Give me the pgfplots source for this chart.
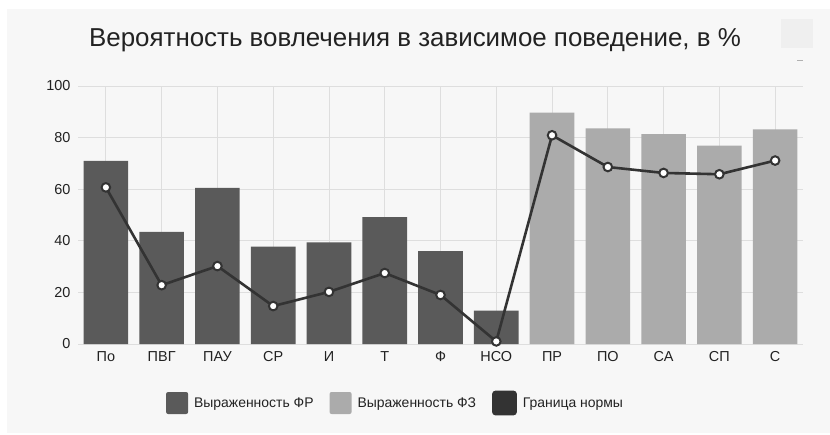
\documentclass[border=0pt]{standalone}
\usepackage{fontspec}
\setmainfont{Liberation Sans}
\usepackage{pgfplots}
\pgfplotsset{compat=1.18}
\definecolor{bgg}{HTML}{F7F7F7}
\definecolor{boxg}{HTML}{EFEFEF}
\definecolor{darkbar}{HTML}{5A5A5A}
\definecolor{lightbar}{HTML}{ABABAB}
\definecolor{lineC}{HTML}{333333}
\definecolor{gridC}{HTML}{DEDEDE}
\definecolor{txt}{HTML}{222222}
\begin{document}
\begin{tikzpicture}
\fill[white] (0bp,0bp) rectangle (830bp,435bp);
\fill[bgg] (7bp,2bp) rectangle (830bp,426bp);
\fill[boxg] (781bp,387bp) rectangle (813bp,416bp);
\draw[gridC!80!black, line width=1bp] (797bp,374bp) -- (803bp,374bp);
\begin{axis}[
  at={(78bp,91bp)}, anchor=south west,
  width=725bp, height=258bp, scale only axis,
  xmin=-0.5, xmax=12.5, ymin=0, ymax=100,
  axis line style={draw=none},
  major tick length=0pt,
  grid=major, grid style={gridC, line width=0.8bp},
  xtick={0,...,12},
  xticklabels={По,ПВГ,ПАУ,СР,И,Т,Ф,НСО,ПР,ПО,СА,СП,С},
  ytick={0,20,...,100},
  /pgf/number format/assume math mode=true,
  tick label style={font=\fontsize{14.5}{16}\selectfont, text=txt},
  yticklabel style={xshift=-4bp},
  xticklabel style={yshift=-4bp},
  clip=false,
  legend columns=3,
  legend style={at={(0.438,-0.2287)}, anchor=center, draw=none, fill=none,
    font=\fontsize{14}{16}\selectfont, text=txt,
    /tikz/every odd column/.append style={column sep=4bp},
    /tikz/every even column/.append style={column sep=14bp}},
]
\addplot[ybar, bar width=0.8, bar shift=0pt, fill=darkbar, draw=none,
  legend image code/.code={\fill[darkbar, rounded corners=2bp] (0bp,-11bp) rectangle (22bp,11bp);}]
  coordinates {(0,71.0) (1,43.5) (2,60.5) (3,37.7) (4,39.4) (5,49.2) (6,36.0) (7,12.9)};
\addlegendentry{Выраженность ФР}
\addplot[ybar, bar width=0.8, bar shift=0pt, fill=lightbar, draw=none,
  legend image code/.code={\fill[lightbar, rounded corners=2bp] (0bp,-11bp) rectangle (22bp,11bp);}]
  coordinates {(8,89.7) (9,83.6) (10,81.3) (11,76.9) (12,83.2)};
\addlegendentry{Выраженность ФЗ}
\addplot[lineC, line width=2.6bp, mark=*, mark size=4.3bp,
  mark options={fill=white, draw=lineC, line width=2bp},
  legend image code/.code={\fill[lineC, rounded corners=2bp] (0bp,-11bp) rectangle (22bp,11bp);}]
  coordinates {(0,60.7) (1,22.8) (2,30.2) (3,14.7) (4,20.2) (5,27.5) (6,19.0) (7,1.0) (8,80.9) (9,68.6) (10,66.3) (11,65.8) (12,71.1)};
\addlegendentry{Граница нормы}
\end{axis}
\node[text=txt, font=\fontsize{26}{30}\selectfont] at (415bp,395bp) {Вероятность вовлечения в зависимое поведение, в \%};
\end{tikzpicture}
\end{document}
